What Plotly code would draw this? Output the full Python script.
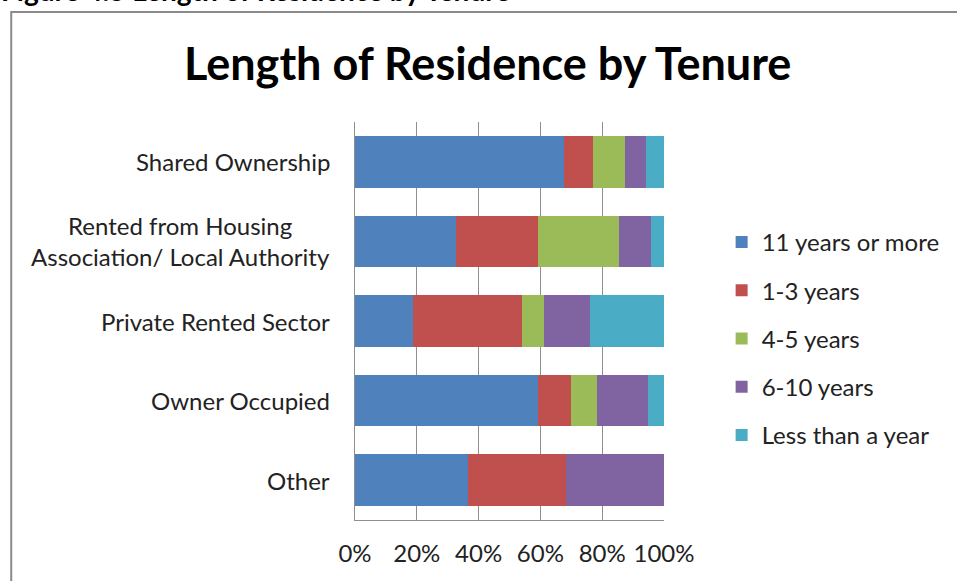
import plotly.graph_objects as go

categories = ["Shared Ownership",
              "Rented from Housing<br>Association/ Local Authority",
              "Private Rented Sector",
              "Owner Occupied",
              "Other"]
series_names = ["11 years or more", "1-3 years", "4-5 years", "6-10 years", "Less than a year"]
years_11_plus = [67.5, 32.6, 18.9, 59.2, 36.7]
years_1_3 = [9.6, 26.7, 35.3, 10.8, 31.7]
years_4_5 = [10.4, 26.0, 7.0, 8.3, 0.0]
years_6_10 = [6.7, 10.5, 15.0, 16.6, 31.6]
less_than_year = [5.8, 4.2, 23.8, 5.1, 0.0]
tick_vals = [0, 20, 40, 60, 80, 100]
tick_text = ["0%", "20%", "40%", "60%", "80%", "100%"]

colors = ["#4F81BD", "#C0504D", "#9BBB59", "#8064A2", "#4BACC6"]
series_vals = [years_11_plus, years_1_3, years_4_5, years_6_10, less_than_year]

FONT = "Lato"
FS = 24

fig = go.Figure()
for i, (name, vals) in enumerate(zip(series_names, series_vals)):
    fig.add_trace(go.Bar(
        y=categories, x=vals, name=name, orientation="h",
        marker=dict(color=colors[i], line=dict(width=0)),
        legendgroup=f"g{i}", hoverinfo="x+name",
    ))

L, R, T, B = 355, 291, 122, 61
W, H = 957, 581
pw = W - L - R
ph = H - T - B

def px_x(px):
    return (px - L) / pw

def px_y(py):
    return (H - B - py) / ph

annotations = []
for c in categories:
    annotations.append(dict(
        x=0, xref="paper", y=c, yref="y", text=c, showarrow=False,
        xanchor="right", xshift=-23, align="center",
        font=dict(family=FONT, size=FS, color="#222222"),
    ))
annotations.append(dict(
    x=px_x(488), xref="paper", y=px_y(63), yref="paper",
    text="<b>Length of Residence by Tenure</b>", showarrow=False,
    xanchor="center", yanchor="middle",
    font=dict(family=FONT, size=45, color="#000000"),
))
annotations.append(dict(
    x=px_x(-3), xref="paper", y=px_y(9), yref="paper",
    text="<b>Figure 4.5 Length of Residence by Tenure</b>", showarrow=False,
    xanchor="left", yanchor="bottom",
    font=dict(family=FONT, size=28, color="#000000"),
))

fig.update_layout(
    width=W, height=H,
    margin=dict(l=L, r=R, t=T, b=B),
    barmode="stack", bargap=0.35,
    plot_bgcolor="white", paper_bgcolor="white",
    showlegend=True,
    legend=dict(
        x=px_x(724), y=px_y(220), xanchor="left", yanchor="top",
        font=dict(family=FONT, size=FS, color="#222222"),
        traceorder="grouped", tracegroupgap=14,
        itemclick=False, itemdoubleclick=False,
    ),
    xaxis=dict(
        range=[0, 100], tickvals=tick_vals, ticktext=tick_text,
        showgrid=True, gridcolor="#8f8f8f", gridwidth=1,
        showline=True, linecolor="#8f8f8f", linewidth=1,
        ticks="", zeroline=False, fixedrange=True,
        tickfont=dict(family=FONT, size=FS, color="#222222"),
        ticklabelstandoff=12,
    ),
    yaxis=dict(
        categoryorder="array", categoryarray=categories, autorange="reversed",
        showticklabels=False, showgrid=False,
        showline=True, linecolor="#8f8f8f", linewidth=1,
        ticks="", fixedrange=True,
    ),
    annotations=annotations,
    shapes=[dict(
        type="rect", xref="paper", yref="paper",
        x0=px_x(9), x1=px_x(975), y0=px_y(12), y1=px_y(600),
        line=dict(color="#8a8a8a", width=2), fillcolor="rgba(0,0,0,0)",
        layer="below",
    )],
)

fig.write_html("out.html",
               config={"displayModeBar": False},
               post_script="document.body.style.margin='0';document.body.style.overflow='hidden';")
